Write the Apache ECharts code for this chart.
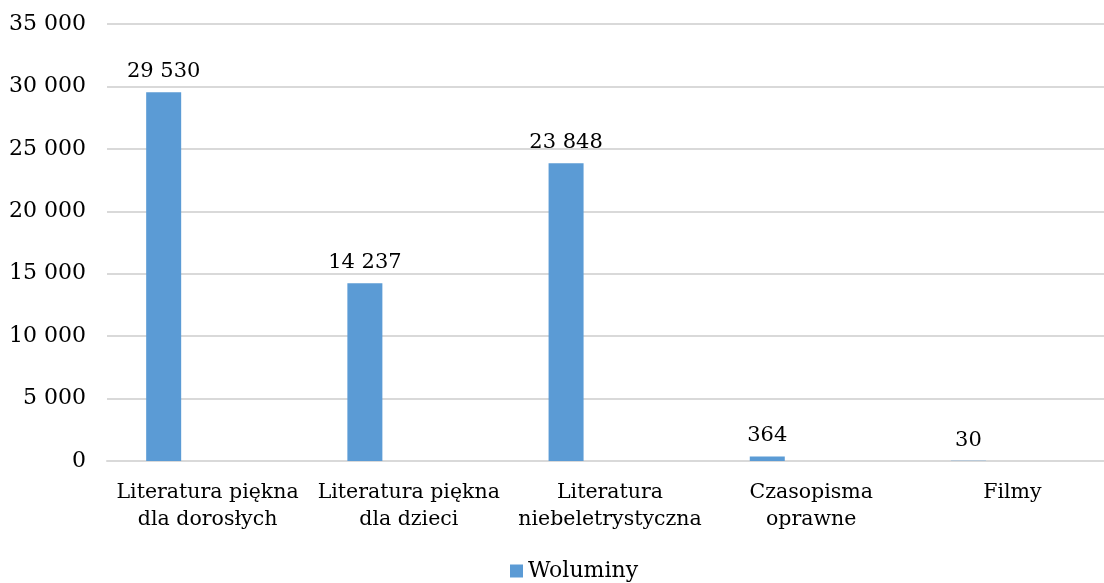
<!DOCTYPE html>
<html>
<head>
<meta charset="utf-8">
<script src="https://cdn.jsdelivr.net/npm/echarts@6/dist/echarts.min.js"></script>
<style>
  html, body { margin: 0; padding: 0; background: #fff; overflow: hidden; }
  /* oryginalny wykres jest uciety z prawej strony, wiec kontener jest szerszy od okna */
  #chart { width: 1113px; height: 583px; }
</style>
</head>
<body>
<div id="chart"></div>
<script>
// dane z wykresu
var kategorie = ['Literatura piękna\ndla dorosłych', 'Literatura piękna\ndla dzieci', 'Literatura\nniebeletrystyczna', 'Czasopisma\noprawne', 'Filmy'];
var woluminy = [29530, 14237, 23848, 364, 30];
var pusta = [null, null, null, null, null]; // druga (pusta) seria - przesuwa slupki w lewo
var osY = { min: 0, max: 35000, interval: 5000 };

var font = 'DejaVu Serif';

// 29530 -> "29 530"
function fmt(v) {
    return String(v).replace(/\B(?=(\d{3})+(?!\d))/g, ' ');
}

var myChart = echarts.init(document.getElementById('chart'));

var option = {
    animation: false,
    textStyle: { fontFamily: font },
    grid: {
        left: 107,
        right: 0,
        top: 24,
        bottom: 122,
        containLabel: false
    },
    legend: {
        data: ['Woluminy'],
        left: 505,
        top: 555,
        itemWidth: 13,
        itemHeight: 13,
        itemGap: 4,
        icon: 'rect',
        textStyle: { fontFamily: font, fontSize: 22, color: '#000' }
    },
    xAxis: {
        type: 'category',
        data: kategorie,
        axisLine: { show: true, lineStyle: { color: '#d9d9d9', width: 2 } },
        axisTick: { show: false },
        axisLabel: {
            interval: 0,
            margin: 18,
            fontFamily: font,
            fontSize: 20.5,
            lineHeight: 27,
            color: '#000'
        }
    },
    yAxis: {
        type: 'value',
        min: osY.min,
        max: osY.max,
        interval: osY.interval,
        axisLine: { show: false },
        axisTick: { show: false },
        splitLine: { lineStyle: { color: '#d9d9d9', width: 2 } },
        axisLabel: {
            margin: 21,
            fontFamily: font,
            fontSize: 22,
            color: '#000',
            formatter: fmt
        }
    },
    series: [
        {
            name: 'Woluminy',
            type: 'bar',
            data: woluminy,
            barWidth: 35,
            barGap: '151%',
            itemStyle: { color: '#5b9bd5' },
            label: {
                show: true,
                position: 'top',
                distance: 10,
                fontFamily: font,
                fontSize: 21,
                color: '#000',
                formatter: function (p) { return fmt(p.value); }
            }
        },
        {
            name: 'puste',
            type: 'bar',
            data: pusta,
            barWidth: 35,
            itemStyle: { color: '#ed7d31' }
        }
    ]
};

myChart.setOption(option, true);
</script>
</body>
</html>
